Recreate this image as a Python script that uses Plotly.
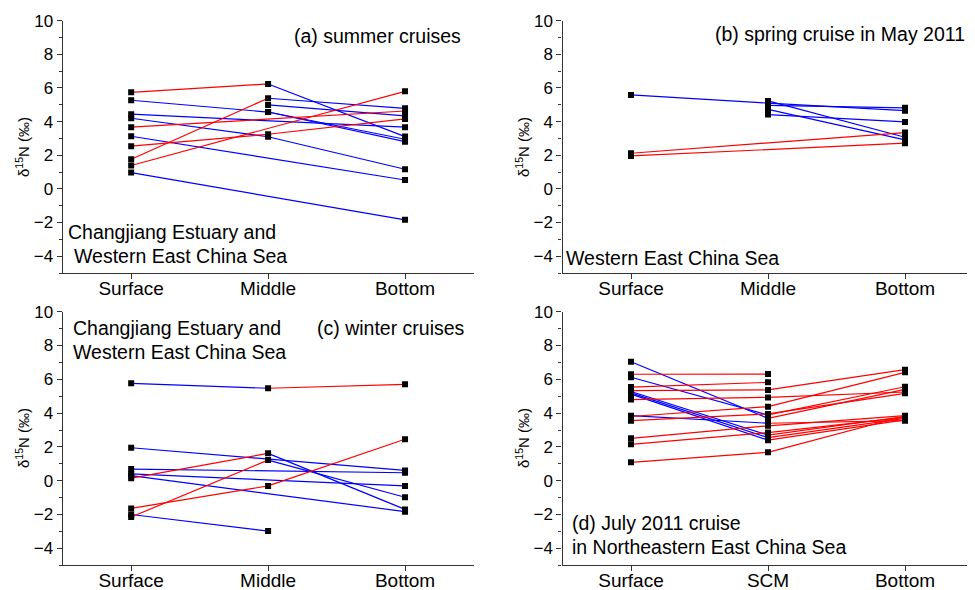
import plotly.graph_objects as go

# ---------------- data ----------------
cats_a = ["Surface", "Middle", "Bottom"]
cats_b = ["Surface", "Middle", "Bottom"]
cats_c = ["Surface", "Middle", "Bottom"]
cats_d = ["Surface", "SCM", "Bottom"]

surf_a = [5.74, 5.27, 4.44, 4.20, 3.67, 3.13, 2.54, 1.76, 1.39, 0.97, None, None]
mid_a = [6.24, 4.57, None, 3.10, None, None, 3.25, 5.39, None, None, 4.99, 4.57]
bot_a = [3.11, 2.95, 3.67, 1.17, 4.63, 0.53, 4.16, 4.79, 5.80, -1.84, 4.34, 2.81]

surf_b = [5.59, None, None, None, None, 2.12, 1.96]
mid_b = [5.10, 4.97, 5.23, 4.73, 4.42, None, None]
bot_b = [4.65, 4.82, 3.07, 2.91, 3.98, 3.35, 2.72]

surf_c = [5.76, 1.95, 0.69, 0.40, 0.30, 0.15, -1.64, -2.15, -2.00]
mid_c = [5.47, None, None, None, None, 1.62, -0.31, 1.22, -2.98]
bot_c = [5.70, 0.61, 0.47, -0.31, -1.83, -1.70, 2.45, -0.98, None]

surf_d = [7.04, 6.30, 6.12, 5.54, 5.33, 5.28, 5.20, 5.12, 4.80, 3.85, 3.80, 3.55, 2.51, 2.15, 1.09]
mid_d = [3.69, 6.31, 3.89, 5.82, 5.37, 2.70, 2.55, 2.40, 4.93, 3.40, 4.38, 3.95, 3.25, 2.85, 1.68]
bot_d = [5.40, None, 5.56, None, 6.57, 3.80, 3.69, 3.60, 5.25, 3.55, 6.41, 5.17, 3.85, 3.75, 3.83]

ytick_vals = [-4, -2, 0, 2, 4, 6, 8, 10]
yminor_vals = [-5, -3, -1, 1, 3, 5, 7, 9]

RED = "#ff0000"
BLUE = "#0000ff"
FONT = "Liberation Sans, Arial, sans-serif"

# page body has an 8px margin: the figure is drawn from (8, 8)
OFFX, OFFY = 8, 8
W, H = 967, 582

def px(x):
    return (x - OFFX) / W

def py(y):
    return 1 - (y - OFFY) / H

fig = go.Figure()

panels = [
    (surf_a, mid_a, bot_a, "x", "y"),
    (surf_b, mid_b, bot_b, "x2", "y2"),
    (surf_c, mid_c, bot_c, "x3", "y3"),
    (surf_d, mid_d, bot_d, "x4", "y4"),
]

for surf, mid, bot, xa, ya in panels:
    rx, ry, bx, by = [], [], [], []
    mx, my = [], []
    for s, m, b in zip(surf, mid, bot):
        pts = [(i, v) for i, v in enumerate((s, m, b)) if v is not None]
        for (x0, y0), (x1, y1) in zip(pts[:-1], pts[1:]):
            if y1 >= y0:
                rx += [x0, x1, None]; ry += [y0, y1, None]
            else:
                bx += [x0, x1, None]; by += [y0, y1, None]
        for x, v in pts:
            mx.append(x); my.append(v)
    fig.add_trace(go.Scatter(x=bx, y=by, mode="lines", line=dict(color=BLUE, width=1.2),
                             xaxis=xa, yaxis=ya, showlegend=False, hoverinfo="skip"))
    fig.add_trace(go.Scatter(x=rx, y=ry, mode="lines", line=dict(color=RED, width=1.2),
                             xaxis=xa, yaxis=ya, showlegend=False, hoverinfo="skip"))
    fig.add_trace(go.Scatter(x=mx, y=my, mode="markers",
                             marker=dict(symbol="square", size=6, color="black"),
                             xaxis=xa, yaxis=ya, showlegend=False))

xdom_left = [px(62.7), px(473.5)]
right_end = 974.0
xdom_right = [px(562.5), px(right_end)]
right_range = [-0.5, -0.5 + (right_end - 562.5) / 137.0]
ydom_top = [py(273.0), py(20.7)]
ydom_bot = [py(565.2), py(311.7)]

def xaxis(dom, cats, anchor, rng):
    return dict(domain=dom, anchor=anchor, range=rng, tickmode="array",
                tickvals=[0, 1, 2], ticktext=cats, showline=True, linecolor="#333",
                linewidth=1.2, ticks="outside", ticklen=5, tickcolor="#333",
                showgrid=False, zeroline=False, automargin=False,
                ticklabelstandoff=-7,
                tickfont=dict(family=FONT, size=19, color="black"))

def yaxis(dom, anchor):
    return dict(domain=dom, anchor=anchor, range=[-5, 10], tickmode="array",
                tickvals=ytick_vals, showline=True, linecolor="#333", linewidth=1.2,
                ticks="outside", ticklen=5, tickcolor="#333", showgrid=False,
                zeroline=False, automargin=False,
                tickfont=dict(family=FONT, size=17, color="black"),
                minor=dict(tickvals=yminor_vals, ticks="outside",
                           ticklen=3, tickcolor="#333"))

fig.update_layout(
    width=W, height=H, margin=dict(l=0, r=0, t=0, b=0, autoexpand=False),
    plot_bgcolor="white", paper_bgcolor="white",
    xaxis=xaxis(xdom_left, cats_a, "y", [-0.5, 2.5]), yaxis=yaxis(ydom_top, "x"),
    xaxis2=xaxis(xdom_right, cats_b, "y2", right_range), yaxis2=yaxis(ydom_top, "x2"),
    xaxis3=xaxis(xdom_left, cats_c, "y3", [-0.5, 2.5]), yaxis3=yaxis(ydom_bot, "x3"),
    xaxis4=xaxis(xdom_right, cats_d, "y4", right_range), yaxis4=yaxis(ydom_bot, "x4"),
)

def ann(text, x, y, xanchor="left", size=19.5):
    fig.add_annotation(text=text, x=px(x), y=py(y), xref="paper", yref="paper",
                       xanchor=xanchor, yanchor="middle", showarrow=False,
                       align="left", font=dict(family=FONT, size=size, color="black"))

ann("(a) summer cruises", 463, 36, "right")
ann("Changjiang Estuary and", 66, 232)
ann("Western East China Sea", 72, 256)
ann("(b) spring cruise in May 2011", 967, 34, "right")
ann("Western East China Sea", 564, 258)
ann("Changjiang Estuary and", 71, 328)
ann("Western East China Sea", 71, 352)
ann("(c) winter cruises", 467, 328, "right")
ann("(d) July 2011 cruise", 570, 523)
ann("in Northeastern East China Sea", 570, 547)

ytitle = "δ<sup>15</sup>N (‰)"
for x, y in [(22, 147), (522, 147), (22, 438), (522, 438)]:
    fig.add_annotation(text=ytitle, x=px(x), y=py(y), xref="paper", yref="paper",
                       xanchor="center", yanchor="middle", showarrow=False,
                       textangle=-90, font=dict(family=FONT, size=15, color="black"))

fig.write_html("out.html")
